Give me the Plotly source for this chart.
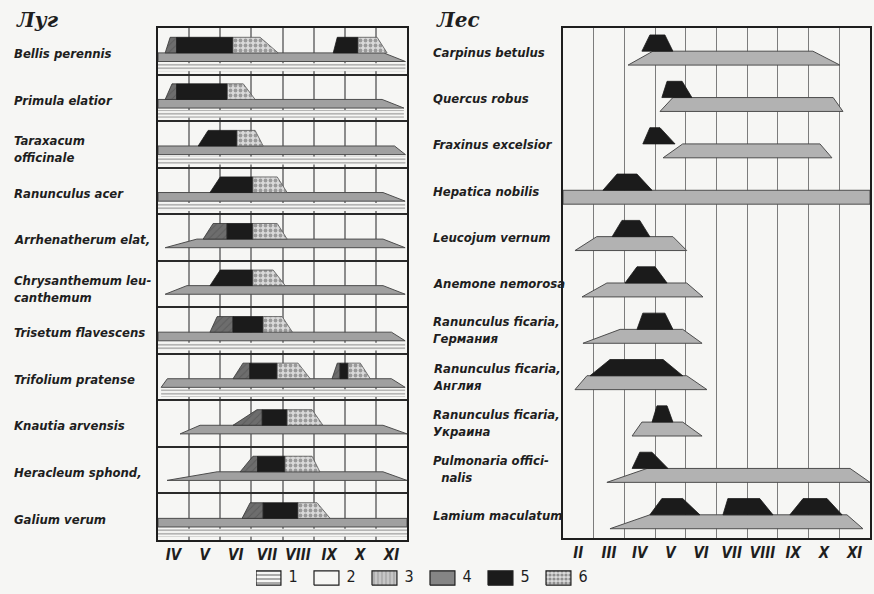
import plotly.graph_objects as go

# ---------------------------------------------------------------- data
MEADOW_MONTHS = ["IV", "V", "VI", "VII", "VIII", "IX", "X", "XI"]
FOREST_MONTHS = ["II", "III", "IV", "V", "VI", "VII", "VIII", "IX", "X", "XI"]
LEGEND_KEYS = ["1", "2", "3", "4", "5", "6"]

meadow_species = [
    "Bellis perennis", "Primula elatior", "Taraxacum<br>officinale",
    "Ranunculus acer", "Arrhenatherum elat,", "Chrysanthemum leu-<br>canthemum",
    "Trisetum flavescens", "Trifolium pratense", "Knautia arvensis",
    "Heracleum sphond,", "Galium verum",
]
# green leaves: emergence, full foliage, start of dying, death (month + fraction)
meadow_leaves = [
    (4.00, 4.00, 11.25, 11.95), (4.00, 4.00, 11.20, 11.90), (4.00, 4.00, 11.60, 11.95),
    (4.00, 4.00, 11.23, 11.94), (4.23, 5.25, 11.23, 11.94), (4.23, 4.93, 11.23, 11.94),
    (4.00, 4.00, 11.50, 11.94), (4.10, 4.30, 11.50, 11.94), (4.71, 5.35, 11.23, 12.00),
    (4.29, 5.90, 11.23, 12.00), (4.00, 4.00, 12.00, 12.00),
]
# leaves kept green through winter
meadow_wintergreen = [True, True, True, True, False, False, True, True, False, False, True]
# generative waves: first buds, full height, flowering, fruiting, decline, end
meadow_waves = [
    [(4.23, 4.39, 4.60, 6.41, 7.28, 7.86), (9.63, 9.76, 9.63, 10.43, 11.04, 11.36)],
    [(4.23, 4.45, 4.60, 6.23, 6.74, 7.12)],
    [(5.29, 5.61, 5.29, 6.54, 7.12, 7.38)],
    [(5.67, 6.00, 5.67, 7.05, 7.83, 8.15)],
    [(5.45, 5.77, 6.22, 7.05, 7.83, 8.15)],
    [(5.67, 6.00, 5.67, 7.05, 7.70, 8.09)],
    [(5.67, 5.90, 6.41, 7.38, 7.99, 8.32)],
    [(6.41, 6.73, 6.95, 7.83, 8.50, 8.89), (9.59, 9.76, 9.85, 10.11, 10.50, 10.82)],
    [(6.41, 7.18, 7.35, 8.15, 8.95, 9.30)],
    [(6.64, 7.05, 7.20, 8.08, 8.95, 9.20)],
    [(6.70, 6.96, 7.38, 8.50, 9.11, 9.53)],
]

forest_species = [
    "Carpinus betulus", "Quercus robus", "Fraxinus excelsior", "Hepatica nobilis",
    "Leucojum vernum", "Anemone nemorosa", "Ranunculus ficaria,<br>Германия",
    "Ranunculus ficaria,<br>Англия", "Ranunculus ficaria,<br>Украина",
    "Pulmonaria offici-<br>\u00a0\u00a0nalis", "Lamium maculatum",
]
forest_leaves = [
    (4.12, 4.93, 10.14, 11.02), (5.16, 5.58, 10.80, 11.12), (5.26, 5.90, 10.37, 10.76),
    (2.00, 2.00, 12.00, 12.00), (2.39, 3.10, 5.58, 6.03), (2.62, 3.43, 6.03, 6.56),
    (2.65, 3.86, 5.90, 6.53), (2.39, 2.78, 6.03, 6.69), (4.25, 4.57, 5.90, 6.53),
    (3.43, 4.74, 11.35, 12.00), (3.53, 4.83, 11.25, 11.77),
]
# flowering: start, full, decline, end
forest_flowering = [
    [(4.57, 4.83, 5.32, 5.58)],
    [(5.22, 5.39, 5.88, 6.20)],
    [(4.60, 4.83, 5.16, 5.65)],
    [(3.30, 3.76, 4.41, 4.90)],
    [(3.60, 3.92, 4.50, 4.83)],
    [(4.02, 4.41, 5.00, 5.39)],
    [(4.41, 4.60, 5.32, 5.58)],
    [(2.88, 3.53, 5.26, 5.90)],
    [(4.90, 5.06, 5.39, 5.58)],
    [(4.25, 4.50, 4.90, 5.42)],
    [(4.83, 5.22, 5.90, 6.46), (7.21, 7.37, 8.41, 8.84), (9.39, 9.82, 10.60, 11.09)],
]

# ---------------------------------------------------------------- style
PAPER = "#f6f6f4"
INK = "#1e1e1e"
LEAF = "#a0a0a0"
LEAF_EDGE = "#4d4d4d"
BUD = "#6d6d6d"
FLOWER = "#1b1b1b"
FRUIT_BG = "#dadada"
FONT = "Liberation Sans Narrow, DejaVu Sans Condensed, Arial Narrow, sans-serif"

# vertical layout inside one row (row height = 1, axis reversed)
M_TOP, M_BASE, M_LEAF_BOTTOM, M_WIN_TOP, M_WIN_BOTTOM = 0.20, 0.535, 0.72, 0.76, 0.93
F_TOP, F_BASE, F_LEAF_BOTTOM = 0.15, 0.50, 0.80


def profile(x, x0, x1, x2, x3):
    if x1 > x0 and x < x1:
        return (x - x0) / (x1 - x0)
    if x3 > x2 and x > x2:
        return (x3 - x) / (x3 - x2)
    return 1.0


def piece(a, b, shape, base, top):
    """Part [a, b] of the trapezoid 'shape' standing on 'base'."""
    x0, x1, x2, x3 = shape
    xs = [a] + [v for v in (x1, x2) if a < v < b] + [b]
    px = [a] + xs + [b, a]
    py = [base] + [base + (top - base) * profile(v, *shape) for v in xs] + [base, base]
    return px, py


def add_poly(store, px, py):
    store[0].extend(px + [None])
    store[1].extend(py + [None])


def poly_trace(store, fill, line, width, xa, ya, pattern=None):
    kw = dict(x=store[0], y=store[1], mode="lines", fill="toself", fillcolor=fill,
              line=dict(color=line, width=width), hoverinfo="skip", showlegend=False,
              xaxis=xa, yaxis=ya)
    if pattern:
        kw["fillpattern"] = pattern
    return go.Scatter(**kw)


fig = go.Figure()

# ---- meadow panel
leaf, winter, bud, flower, fruit = ([], []), ([], []), ([], []), ([], []), ([], [])
for i, (lv, wg, waves) in enumerate(zip(meadow_leaves, meadow_wintergreen, meadow_waves)):
    add_poly(leaf, *piece(lv[0], lv[3], lv, i + M_LEAF_BOTTOM, i + M_BASE))
    if wg:
        add_poly(winter, [lv[0], lv[0], lv[3], lv[3], lv[0]],
                 [i + M_WIN_BOTTOM, i + M_WIN_TOP, i + M_WIN_TOP, i + M_WIN_BOTTOM, i + M_WIN_BOTTOM])
    for b0, b1, bloom, fr, b4, b5 in waves:
        shp = (b0, b1, b4, b5)
        for store, a, b in ((bud, b0, bloom), (flower, bloom, fr), (fruit, fr, b5)):
            if b > a:
                add_poly(store, *piece(a, b, shp, i + M_BASE, i + M_TOP))

fig.add_trace(poly_trace(winter, PAPER, "rgba(0,0,0,0)", 0, "x", "y",
                         dict(shape="-", fgcolor="#3c3c3c", bgcolor=PAPER, size=3.5, solidity=0.35)))
fig.add_trace(poly_trace(leaf, LEAF, LEAF_EDGE, 1, "x", "y"))
fig.add_trace(poly_trace(bud, BUD, "#333333", 0.8, "x", "y",
                         dict(shape="/", fgcolor="#4a4a4a", bgcolor=BUD, size=5, solidity=0.2)))
fig.add_trace(poly_trace(flower, FLOWER, FLOWER, 0.8, "x", "y"))
fig.add_trace(poly_trace(fruit, FRUIT_BG, "#555555", 0.8, "x", "y",
                         dict(shape=".", fgcolor="#5a5a5a", bgcolor=FRUIT_BG, size=5, solidity=0.45)))

# ---- forest panel
fleaf, fflower = ([], []), ([], [])
for i, (lv, waves) in enumerate(zip(forest_leaves, forest_flowering)):
    add_poly(fleaf, *piece(lv[0], lv[3], lv, i + F_LEAF_BOTTOM, i + F_BASE))
    for w in waves:
        add_poly(fflower, *piece(w[0], w[3], w, i + F_BASE, i + F_TOP))

fig.add_trace(poly_trace(fleaf, "#b2b2b2", LEAF_EDGE, 1, "x2", "y2"))
fig.add_trace(poly_trace(fflower, FLOWER, FLOWER, 0.8, "x2", "y2"))

# ---- legend swatches
legend_styles = [
    dict(fillcolor=PAPER, fillpattern=dict(shape="-", fgcolor=INK, bgcolor=PAPER, size=4, solidity=0.35)),
    dict(fillcolor=PAPER),
    dict(fillcolor="#c6c6c6", fillpattern=dict(shape="|", fgcolor="#7a7a7a", bgcolor="#c6c6c6", size=4, solidity=0.3)),
    dict(fillcolor="#858585"),
    dict(fillcolor=FLOWER),
    dict(fillcolor=FRUIT_BG, fillpattern=dict(shape=".", fgcolor="#444444", bgcolor=FRUIT_BG, size=4, solidity=0.5)),
]
for k, st in enumerate(legend_styles):
    fig.add_trace(go.Scatter(x=[k, k + 0.43, k + 0.43, k, k], y=[0.1, 0.1, 0.9, 0.9, 0.1],
                             mode="lines", fill="toself", line=dict(color=INK, width=1.2),
                             hoverinfo="skip", showlegend=False, xaxis="x3", yaxis="y3", **st))
fig.add_trace(go.Scatter(x=[k + 0.56 for k in range(len(LEGEND_KEYS))], y=[0.5] * len(LEGEND_KEYS),
                         mode="text", text=LEGEND_KEYS, textposition="middle right",
                         textfont=dict(family=FONT, size=16, color=INK),
                         hoverinfo="skip", showlegend=False, xaxis="x3", yaxis="y3"))

# ---------------------------------------------------------------- axes
W, H = 874, 594
tickfont = dict(family=FONT, size=15, color=INK, style="italic", weight="bold")
box = dict(showline=True, mirror=True, linecolor=INK, linewidth=2, zeroline=False, ticks="")

fig.update_layout(
    width=W, height=H, margin=dict(l=0, r=0, t=0, b=0),
    paper_bgcolor=PAPER, plot_bgcolor=PAPER, showlegend=False,
    xaxis=dict(domain=[158 / W, 407 / W], range=[4, 12],
               tickvals=[m + 4.5 for m in range(len(MEADOW_MONTHS))], ticktext=MEADOW_MONTHS,
               tickfont=tickfont, showgrid=False,
               minor=dict(tickvals=list(range(5, 12)), showgrid=True, gridcolor="#8c8c8c", gridwidth=1.5),
               anchor="y", **box),
    yaxis=dict(domain=[1 - 540 / H, 1 - 28 / H], range=[11, 0], showticklabels=False,
               showgrid=False,
               minor=dict(tickvals=list(range(1, 11)), showgrid=True, gridcolor="#2a2a2a", gridwidth=1.5),
               anchor="x", **box),
    xaxis2=dict(domain=[563 / W, 870 / W], range=[2, 12],
                tickvals=[m + 2.5 for m in range(len(FOREST_MONTHS))], ticktext=FOREST_MONTHS,
                tickfont=tickfont, showgrid=False,
                minor=dict(tickvals=list(range(3, 12)), showgrid=True, gridcolor="#7c7c7c", gridwidth=1.3),
                anchor="y2", **box),
    yaxis2=dict(domain=[1 - 538 / H, 1 - 28 / H], range=[11, 0], showticklabels=False,
                showgrid=False, anchor="x2", **box),
    xaxis3=dict(domain=[256 / W, 604 / W], range=[0, 6], visible=False, anchor="y3"),
    yaxis3=dict(domain=[1 - 587 / H, 1 - 569 / H], range=[0, 1], visible=False, anchor="x3"),
)

# ---------------------------------------------------------------- text
label_font = dict(family=FONT, size=13, color=INK, style="italic", weight="bold")
for i, name in enumerate(meadow_species):
    fig.add_annotation(x=12 / W, xref="paper", y=i + (0.6 if "<br>" in name else 0.55), yref="y",
                       text=name, showarrow=False, xanchor="left", yanchor="middle",
                       align="left", font=label_font)
for i, name in enumerate(forest_species):
    fig.add_annotation(x=431 / W, xref="paper", y=i + 0.52, yref="y2",
                       text=name, showarrow=False, xanchor="left", yanchor="middle",
                       align="left", font=label_font)

title_font = dict(family="DejaVu Serif, Liberation Serif, serif", size=20, color=INK,
                  style="italic", weight="bold")
fig.add_annotation(x=14 / W, y=1 - 20 / H, xref="paper", yref="paper", text="Луг",
                   showarrow=False, xanchor="left", yanchor="middle", font=title_font)
fig.add_annotation(x=434 / W, y=1 - 20 / H, xref="paper", yref="paper", text="Лес",
                   showarrow=False, xanchor="left", yanchor="middle", font=title_font)

fig.write_html("out.html")
